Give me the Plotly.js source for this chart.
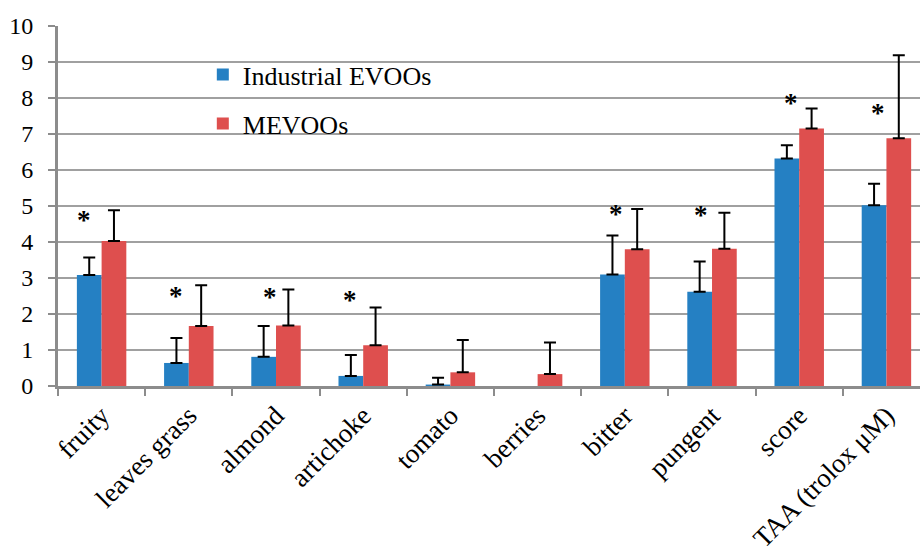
<!DOCTYPE html>
<html>
<head>
<meta charset="utf-8">
<script src="https://cdn.plot.ly/plotly-3.0.1.min.js"></script>
<style>
  html, body { margin: 0; padding: 0; background: #ffffff; }
  #chart { width: 920px; height: 546px; }
</style>
</head>
<body>
<div id="chart"></div>
<script>
// Sensory attributes and antioxidant activity
const categories = ["fruity", "leaves grass", "almond", "artichoke", "tomato",
                    "berries", "bitter", "pungent", "score", "TAA (trolox μM)"];

const industrialMean = [3.08, 0.64, 0.81, 0.28, 0.04, 0, 3.10, 2.62, 6.32, 5.02];
const industrialSD   = [0.49, 0.69, 0.86, 0.58, 0.19, null, 1.08, 0.84, 0.37, 0.60];

const mevooMean = [4.03, 1.67, 1.68, 1.13, 0.38, 0.33, 3.80, 3.81, 7.15, 6.88];
const mevooSD   = [0.85, 1.13, 1.00, 1.05, 0.90, 0.88, 1.12, 1.00, 0.56, 2.31];

// significance marks ("*" where the two groups differ)
const significant = [true, true, true, true, false, false, true, true, true, true];
const starLevel   = [4.73, 2.61, 2.57, 2.51, null, null, 4.89, 4.87, 7.96, 7.70];
const starOffset  = [-0.20, -0.15, -0.07, -0.15, 0, 0, -0.10, -0.13, -0.09, -0.10];

const serif = 'Liberation Serif, Times New Roman, serif';

// upward-only error bars; a missing SD draws no bar at all
function upwardError(sd) {
  return {
    type: 'data', symmetric: false,
    array: sd.map(v => (v === null ? NaN : v)),
    arrayminus: sd.map(v => (v === null ? NaN : 0)),
    color: '#000000', thickness: 2, width: 6
  };
}

const traces = [
  {
    type: 'bar', name: 'Industrial EVOOs', legendgroup: 'a',
    x: categories, y: industrialMean,
    marker: { color: '#2580C3', line: { width: 0 } },
    error_y: upwardError(industrialSD)
  },
  {
    type: 'bar', name: 'MEVOOs', legendgroup: 'b',
    x: categories, y: mevooMean,
    marker: { color: '#DE4F4E', line: { width: 0 } },
    error_y: upwardError(mevooSD)
  }
];

const stars = [];
categories.forEach((c, i) => {
  if (!significant[i]) return;
  stars.push({
    xref: 'x', yref: 'y', x: i + starOffset[i], y: starLevel[i],
    text: '<b>*</b>', showarrow: false, yanchor: 'middle', yshift: -4,
    font: { family: serif, size: 27, color: '#000000' }
  });
});

const layout = {
  width: 920, height: 546,
  margin: { l: 58, r: 0, t: 26, b: 160 },
  paper_bgcolor: '#ffffff', plot_bgcolor: '#ffffff',
  font: { family: serif, color: '#000000' },
  barmode: 'group', bargap: 0.433, bargroupgap: 0,
  xaxis: {
    type: 'category', range: [-0.5, 9.385],
    tickangle: -45, tickfont: { family: serif, size: 27, color: '#000000' },
    ticks: 'outside', tickson: 'boundaries', ticklen: 7, tickwidth: 2, tickcolor: '#8c8c8c',
    showline: true, linecolor: '#8c8c8c', linewidth: 3,
    showgrid: false, zeroline: false
  },
  yaxis: {
    range: [0, 10], dtick: 1, tick0: 0,
    tickfont: { family: serif, size: 24, color: '#000000' },
    ticks: 'outside', ticklen: 7, tickwidth: 2, tickcolor: '#8c8c8c',
    ticklabelstandoff: 10,
    showline: true, linecolor: '#8c8c8c', linewidth: 3,
    showgrid: true, gridcolor: '#a0a0a0', gridwidth: 2,
    zeroline: false
  },
  showlegend: true,
  legend: {
    x: 0.168, y: 0.93, xanchor: 'left', yanchor: 'top',
    bgcolor: 'rgba(0,0,0,0)', borderwidth: 0,
    traceorder: 'grouped', tracegroupgap: 12,
    font: { family: serif, size: 26, color: '#000000' }
  },
  annotations: stars
};

Plotly.newPlot('chart', traces, layout, { staticPlot: true, displayModeBar: false });
</script>
</body>
</html>
